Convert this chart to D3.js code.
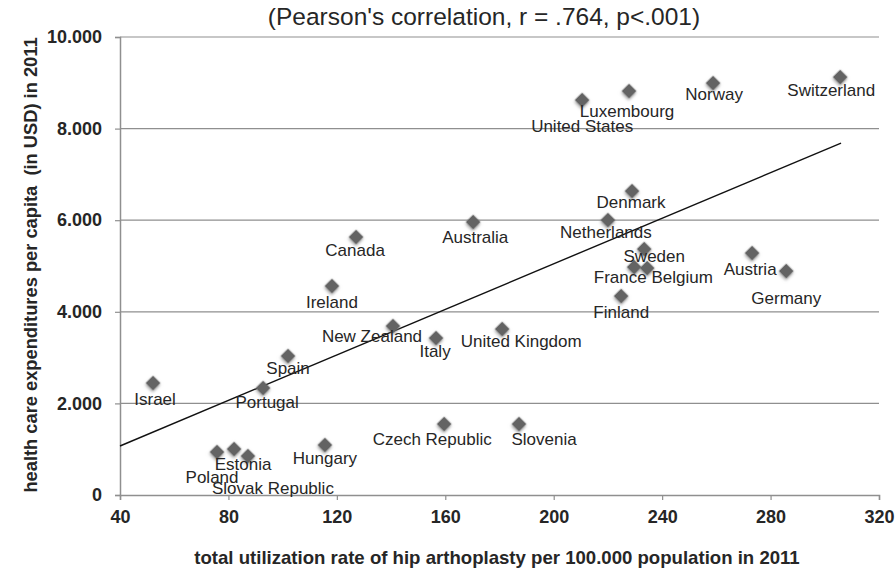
<!DOCTYPE html>
<html>
<head>
<meta charset="utf-8">
<script src="https://cdn.jsdelivr.net/npm/d3@7"></script>
<style>
  body { margin: 0; background: #fff; }
  svg { display: block; font-family: "Liberation Sans", Arial, sans-serif; }
</style>
</head>
<body>
<div id="chart"></div>
<script>
// Hip arthroplasty rate vs health care expenditure, OECD 2011

var countries = ["Israel", "Portugal", "Spain", "Ireland", "Canada", "New Zealand", "Italy",
  "Australia", "United Kingdom", "Netherlands", "Denmark", "Sweden", "France", "Belgium",
  "Finland", "Austria", "Germany", "Luxembourg", "United States", "Norway", "Switzerland",
  "Poland", "Estonia", "Slovak Republic", "Hungary", "Czech Republic", "Slovenia"];

var utilization = [52.2, 92.8, 102, 118.2, 127.1, 140.7, 156.6,
  170.3, 181, 220, 228.9, 233.4, 229.7, 234.5,
  224.9, 273.2, 285.8, 227.8, 210.5, 258.8, 305.7,
  75.8, 82.1, 87.2, 115.6, 159.6, 187.2];

var expenditure = [2445, 2336, 3035, 4563, 5633, 3690, 3427,
  5960, 3624, 6003, 6636, 5370, 4977, 4955,
  4344, 5283, 4890, 8820, 8623, 8994, 9125,
  939, 1004, 851, 1092, 1550, 1550];

// linear trend line end points
var trendX = [40, 306];
var trendY = [1070, 7684];

var xTicks = [40, 80, 120, 160, 200, 240, 280, 320];
var yTicks = [0, 2000, 4000, 6000, 8000, 10000];

var title = "(Pearson's correlation, r = .764, p<.001)";
var xTitle = "total utilization rate of hip arthoplasty per 100.000 population in 2011";
var yTitle = "health care expenditures per capita  (in USD) in 2011";

// label placement relative to the marker (dx, baseline dy)
var labelPos = {
  "Israel": [2, 22], "Portugal": [4, 20], "Spain": [0, 18], "Ireland": [0, 22],
  "Canada": [-1, 19], "New Zealand": [-21, 16], "Italy": [-1, 19], "Australia": [2, 21],
  "United Kingdom": [19, 18], "Netherlands": [-2, 18], "Denmark": [-1, 17],
  "Sweden": [10, 13], "France": [-14, 16], "Belgium": [35, 15], "Finland": [0, 22],
  "Austria": [-2, 22], "Germany": [0, 33], "Luxembourg": [-2, 26], "United States": [0, 32],
  "Norway": [1, 17], "Switzerland": [-9, 19], "Poland": [-5, 31], "Estonia": [9, 21],
  "Slovak Republic": [25, 38], "Hungary": [0, 19], "Czech Republic": [-12, 21],
  "Slovenia": [25, 21]
};

var width = 895,
    height = 570,
    margin = {left: 120, right: 16, top: 37, bottom: 75};

var data = countries.map(function(c, i) {
  return {name: c, x: utilization[i], y: expenditure[i]};
});

var svg = d3.select("#chart").append("svg")
  .attr("width", width)
  .attr("height", height);

var defs = svg.append("defs");
var shadow = defs.append("filter").attr("id", "shadow")
  .attr("x", "-50%").attr("y", "-50%").attr("width", "200%").attr("height", "200%");
shadow.append("feDropShadow")
  .attr("dx", 1).attr("dy", 1.5)
  .attr("stdDeviation", 1.4)
  .attr("flood-color", "#777")
  .attr("flood-opacity", 0.7);

var x = d3.scaleLinear().domain([40, 320]).range([margin.left, width - margin.right]);
var y = d3.scaleLinear().domain([0, 10000]).range([height - margin.bottom, margin.top]);

var fmt = function(d) { return d3.format(",")(d).replace(",", "."); };

// gridlines
svg.append("g")
  .selectAll("line")
  .data(yTicks.filter(function(d) { return d > 0; }))
  .enter().append("line")
  .attr("x1", x(40)).attr("x2", x(320))
  .attr("y1", function(d) { return y(d); })
  .attr("y2", function(d) { return y(d); })
  .attr("stroke", "#8f8f8f")
  .attr("stroke-width", 1.2);

// axes
var xAxis = svg.append("g")
  .attr("transform", "translate(0," + y(0) + ")")
  .call(d3.axisBottom(x).tickValues(xTicks).tickSize(5).tickPadding(10).tickFormat(d3.format("d")));

var yAxis = svg.append("g")
  .attr("transform", "translate(" + x(40) + ",0)")
  .call(d3.axisLeft(y).tickValues(yTicks).tickSize(5).tickPadding(13).tickFormat(fmt));

[xAxis, yAxis].forEach(function(a) {
  a.select(".domain").attr("stroke", "#8f8f8f").attr("stroke-width", 1.5);
  a.selectAll(".tick line").attr("stroke", "#8f8f8f").attr("stroke-width", 1.2);
  a.selectAll(".tick text")
    .attr("fill", "#262626")
    .style("font-size", "18px")
    .style("font-weight", "bold")
    .style("font-family", "'Liberation Sans', Arial, sans-serif");
});

// trend line
svg.append("line")
  .attr("x1", x(trendX[0])).attr("y1", y(trendY[0]))
  .attr("x2", x(trendX[1])).attr("y2", y(trendY[1]))
  .attr("stroke", "#111")
  .attr("stroke-width", 1.4);

// markers
var diamond = d3.symbol().type(d3.symbolSquare).size(110);

svg.append("g")
  .selectAll("path")
  .data(data)
  .enter().append("path")
  .attr("d", diamond)
  .attr("transform", function(d) { return "translate(" + x(d.x) + "," + y(d.y) + ") rotate(45)"; })
  .attr("fill", "#646464")
  .attr("filter", "url(#shadow)");

// point labels
svg.append("g")
  .selectAll("text")
  .data(data)
  .enter().append("text")
  .attr("x", function(d) { return x(d.x) + labelPos[d.name][0]; })
  .attr("y", function(d) { return y(d.y) + labelPos[d.name][1]; })
  .attr("text-anchor", "middle")
  .attr("fill", "#262626")
  .style("font-size", "17px")
  .text(function(d) { return d.name; });

// titles
svg.append("text")
  .attr("x", 484).attr("y", 25)
  .attr("text-anchor", "middle")
  .attr("fill", "#262626")
  .style("font-size", "24.5px")
  .text(title);

svg.append("text")
  .attr("x", 497).attr("y", 564)
  .attr("text-anchor", "middle")
  .attr("fill", "#262626")
  .style("font-size", "18.6px")
  .style("font-weight", "bold")
  .text(xTitle);

svg.append("text")
  .attr("transform", "translate(37,265) rotate(-90)")
  .attr("text-anchor", "middle")
  .attr("fill", "#262626")
  .style("font-size", "18.3px")
  .style("font-weight", "bold")
  .style("white-space", "pre")
  .text(yTitle);
</script>
</body>
</html>
